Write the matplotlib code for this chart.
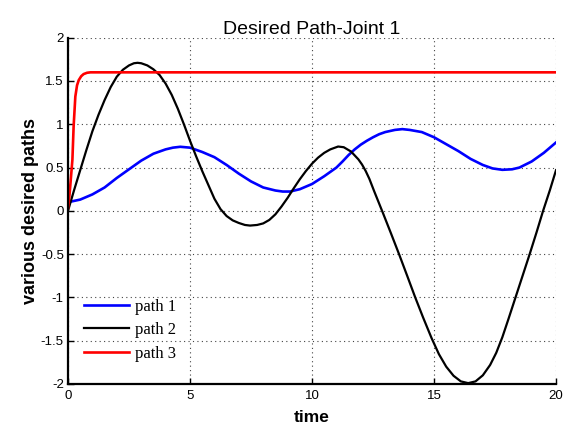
import numpy as np
import matplotlib.pyplot as plt

t_path1 = [0.0, 0.5, 1.0, 1.5, 2.0, 2.5, 3.0, 3.5, 4.0, 4.3, 4.6, 5.0, 5.5, 6.0,
           6.5, 7.0, 7.5, 8.0, 8.5, 8.8, 9.1, 9.5, 10.0, 10.5, 11.0, 11.25, 11.5,
           11.75, 12.0, 12.25, 12.5, 12.75, 13.0, 13.4, 13.7, 14.0, 14.5, 15.0,
           15.5, 16.0, 16.5, 17.0, 17.4, 17.8, 18.2, 18.5, 19.0, 19.5, 20.0]
y_path1 = [0.10, 0.13, 0.19, 0.27, 0.38, 0.48, 0.58, 0.66, 0.71, 0.73, 0.74, 0.73,
           0.68, 0.62, 0.53, 0.43, 0.34, 0.27, 0.235, 0.223, 0.223, 0.25, 0.31,
           0.40, 0.50, 0.57, 0.645, 0.71, 0.765, 0.81, 0.85, 0.885, 0.91, 0.935,
           0.944, 0.935, 0.91, 0.85, 0.77, 0.69, 0.60, 0.53, 0.49, 0.474, 0.48,
           0.50, 0.57, 0.67, 0.79]

t_path2 = [0.0, 0.25, 0.5, 0.75, 1.0, 1.25, 1.5, 1.75, 2.0, 2.25, 2.5, 2.7, 2.85,
           3.0, 3.25, 3.5, 3.75, 4.0, 4.25, 4.5, 4.75, 5.0, 5.25, 5.5, 5.75, 6.0,
           6.25, 6.5, 6.75, 7.0, 7.25, 7.46, 7.75, 8.0, 8.25, 8.5, 8.75, 9.0,
           9.25, 9.5, 9.75, 10.0, 10.25, 10.5, 10.75, 11.07, 11.3, 11.6, 11.9,
           12.05, 12.2, 12.35, 12.55, 12.9, 13.25, 13.58, 13.9, 14.23, 14.55,
           14.9, 15.2, 15.5, 15.8, 16.1, 16.4, 16.7, 17.0, 17.3, 17.55, 17.8,
           18.05, 18.34, 18.63, 18.92, 19.2, 19.47, 19.75, 20.0]
y_path2 = [0.0, 0.24, 0.47, 0.70, 0.92, 1.11, 1.28, 1.43, 1.55, 1.63, 1.68, 1.705,
           1.71, 1.705, 1.68, 1.635, 1.57, 1.47, 1.34, 1.18, 1.0, 0.81, 0.63, 0.46,
           0.30, 0.14, 0.02, -0.06, -0.11, -0.14, -0.163, -0.17, -0.163, -0.145,
           -0.105, -0.04, 0.05, 0.15, 0.26, 0.365, 0.46, 0.545, 0.615, 0.67, 0.71,
           0.743, 0.735, 0.685, 0.595, 0.535, 0.46, 0.37, 0.225, -0.02, -0.27,
           -0.51, -0.75, -1.0, -1.23, -1.47, -1.655, -1.80, -1.905, -1.97, -1.99,
           -1.97, -1.90, -1.78, -1.64, -1.46, -1.25, -1.0, -0.75, -0.50, -0.25,
           0.0, 0.24, 0.47]

t_path3 = [0.0, 0.05, 0.09, 0.18, 0.23, 0.3, 0.37, 0.44, 0.54, 0.64, 0.78, 0.92,
           1.2, 20.0]
y_path3 = [0.03, 0.15, 0.28, 0.59, 0.975, 1.32, 1.45, 1.51, 1.555, 1.58, 1.595,
           1.6, 1.6, 1.6]

plt.rcParams['font.family'] = ['Liberation Sans', 'DejaVu Sans']

fig = plt.figure(figsize=(5.63, 4.30), dpi=100)
ax = fig.add_axes([0.1208, 0.107, 0.8668, 0.8053])

ax.plot(t_path1, y_path1, color='#0000ff', lw=1.9, label='path 1')
ax.plot(t_path2, y_path2, color='black', lw=1.6, label='path 2')
ax.plot(t_path3, y_path3, color='#ff0000', lw=1.9, label='path 3')

ax.set_xlim(0, 20)
ax.set_ylim(-2, 2)
ax.set_xticks([0, 5, 10, 15, 20])
ax.set_yticks([-2, -1.5, -1, -0.5, 0, 0.5, 1, 1.5, 2])
ax.set_yticklabels(['-2', '-1.5', '-1', '-0.5', '0', '0.5', '1', '1.5', '2'])

ax.grid(True, linestyle=(0, (1, 3)), color='#444444', linewidth=0.8)

ax.spines['top'].set_visible(False)
ax.spines['right'].set_visible(False)
ax.spines['left'].set_linewidth(1.6)
ax.spines['bottom'].set_linewidth(1.6)
ax.tick_params(axis='both', direction='in', length=4, width=1.0,
               labelsize=9.5, colors='black', pad=3)
ax.tick_params(axis='x', pad=4)

ax.set_title('Desired Path-Joint 1', fontsize=14, pad=3)
ax.set_xlabel('time', fontsize=12.5, fontweight='bold', labelpad=6)
ax.set_ylabel('various desired paths', fontsize=13, fontweight='bold', labelpad=1)

ax.legend(loc='lower left', bbox_to_anchor=(0.005, 0.026), frameon=False,
          prop={'family': 'Liberation Serif', 'size': 12},
          handlelength=2.7, handletextpad=0.4, labelspacing=0.45,
          borderpad=0.3)

fig.savefig('out.png', dpi=100)
